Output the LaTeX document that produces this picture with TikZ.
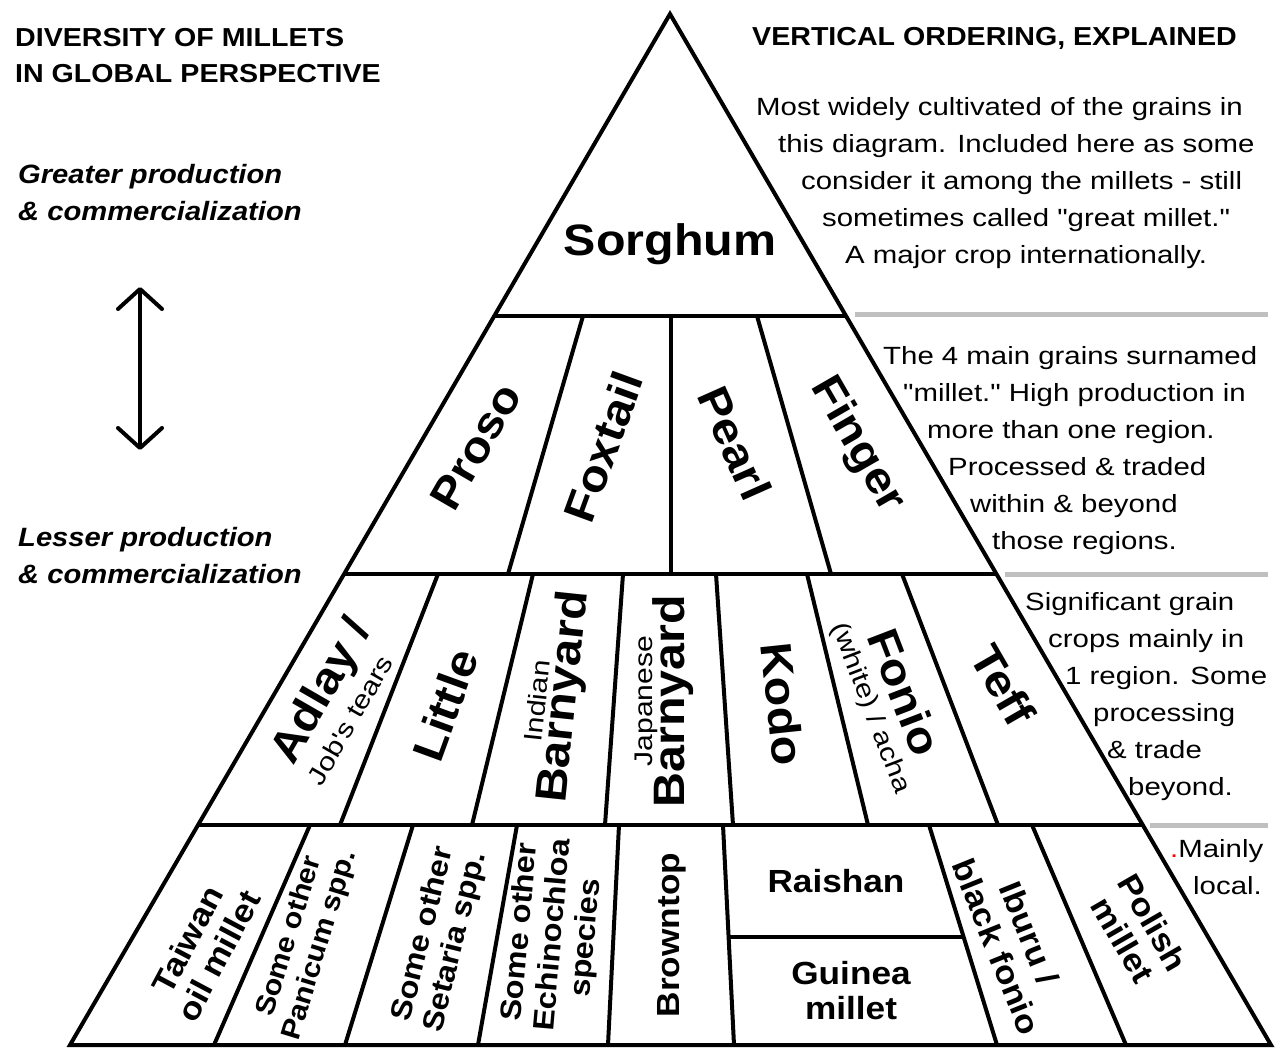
\documentclass[tikz,border=0pt]{standalone}
\usepackage{fontspec}
\setmainfont{Liberation Sans}
\newfontfamily\bodyfont[FakeStretch=1.18]{Liberation Sans}
\newfontfamily\lblfont[FakeStretch=1.1]{Liberation Sans}
\usepackage{tikz}
\usetikzlibrary{arrows.meta,positioning}
\definecolor{sepgray}{RGB}{192,192,192}

\begin{document}
\begin{tikzpicture}[x=1pt,y=-1pt,inner sep=0pt]
  \path[use as bounding box,fill=white](0,0)rectangle(1284,1048);
  \tikzstyle{wall}=[line width=4pt,line join=miter]
  \tikzstyle{hr}=[line width=5pt,draw=sepgray]
  \tikzstyle{head}=[font=\lblfont\bfseries\fontsize{26}{36}\selectfont,align=left,anchor=north west]
  \tikzstyle{side}=[font=\lblfont\bfseries\itshape\fontsize{26.5}{37}\selectfont,align=left,anchor=north west]
  \tikzstyle{note}=[font=\bodyfont\fontsize{24.9}{37}\selectfont,align=left,anchor=north west]
  \tikzstyle{lab}=[font=\lblfont\bfseries\fontsize{44}{44}\selectfont]
  \tikzstyle{sub}=[font=\bodyfont\fontsize{25.5}{30}\selectfont]
  \tikzstyle{sm}=[font=\lblfont\bfseries\fontsize{32}{35}\selectfont,align=center]
  \tikzstyle{spp}=[font=\lblfont\bfseries\fontsize{29.5}{33}\selectfont,align=center]
  % pyramid frame and rows
  \coordinate(top)at(670,14);
  \coordinate(bl)at(70,1045);
  \coordinate(br)at(1271,1045);
  \draw[wall](bl)--(top)--(br)--cycle;
  \foreach\y/\l/\r in{316/494/846,574/344/997,825/198/1143}{\draw[wall](\l,\y)--(\r,\y);}
  \foreach\a/\b in{583/508,671/671,757/831}{\draw[wall](\a,316)--(\b,574);}
  \foreach\a/\b in{438/340,533/472,623/605,716/733,807/868,902/998}{\draw[wall](\a,574)--(\b,825);}
  \foreach\a/\b in{310/214,413/345,517/478,619/608,723/734,929/997,1032/1126}{\draw[wall](\a,825)--(\b,1045);}
  \draw[wall](728.6,937)--(963.6,937);
  \draw[hr](855,315)--(1268,315);
  \draw[hr](1005,574)--(1268,574);
  \draw[hr](1150,825)--(1268,825);
  % left column
  \node[head](title)at(15,28){DIVERSITY OF MILLETS\\IN GLOBAL PERSPECTIVE};
  \node[side](greater)at(18,164){Greater production\\\& commercialization};
  \node[side](lesser)at(18,527){Lesser production\\\& commercialization};
  \coordinate(more)at(140,287);
  \coordinate(less)at(140,450);
  \draw[line width=4pt,{Straight Barb[length=20pt,width=44pt,round]}-{Straight Barb[length=20pt,width=44pt,round]}](more)--(less);
  % right column
  \node[head](expl)at(752,27){VERTICAL ORDERING, EXPLAINED};
  \node[note](n1)at(756,97){Most widely cultivated of the grains in\\\hspace*{22pt}this diagram. Included here as some\\\hspace*{45pt}consider it among the millets - still\\\hspace*{66pt}sometimes called "great millet."\\\hspace*{89pt}A major crop internationally.};
  \node[note](n2)at(883,346){The 4 main grains surnamed\\\hspace*{20pt}"millet." High production in\\\hspace*{44pt}more than one region.\\\hspace*{65pt}Processed \& traded\\\hspace*{87pt}within \& beyond\\\hspace*{109pt}those regions.};
  \node[note](n3)at(1025,592){Significant grain\\\hspace*{23pt}crops mainly in\\\hspace*{40pt}1 region. Some\\\hspace*{68pt}processing\\\hspace*{82pt}\& trade\\\hspace*{103pt}beyond.};
  \node[note](n4)at(1170,839){\textcolor{red}{.}Mainly\\\hspace*{23pt}local.};
  % grains
  \node[lab,anchor=base](sorghum)at(670,256){Sorghum};
  \node[lab,rotate=60](proso)at(476,447){Proso};
  \node[lab,rotate=70](foxtail)at(603,447){Foxtail};
  \node[lab,rotate=-66](pearl)at(735,443){Pearl};
  \node[lab,rotate=-60](finger)at(857,445){Finger};
  \node[lab,rotate=60](adlay)at(323,692){Adlay /};
  \node[sub,rotate=60](jobs)at(350,720){Job's tears};
  \node[lab,rotate=70](little)at(445,705){Little};
  \node[sub,rotate=84](indian)at(537,701){Indian};
  \node[lab,rotate=84](ibarn)at(565,697){Barnyard};
  \node[sub,rotate=90](japanese)at(646,701){Japanese};
  \node[lab,rotate=90](jbarn)at(673,701){Barnyard};
  \node[lab,rotate=-84](kodo)at(783,704){Kodo};
  \node[lab,rotate=-69](fonio)at(905,692){Fonio};
  \node[sub,rotate=-69](acha)at(870,708){(white) / acha};
  \node[lab,rotate=-60](teff)at(1003,685){Teff};
  \node[sm,rotate=62](taiwan)at(203,948){Taiwan\\oil millet};
  \node[spp,rotate=73,font=\lblfont\bfseries\fontsize{27.5}{32}\selectfont](panicum)at(305,941){Some other\\Panicum spp.};
  \node[spp,rotate=76](setaria)at(440,938){Some other\\Setaria spp.};
  \node[spp,rotate=85](echino)at(554,935){Some other\\Echinochloa\\species};
  \node[sm,rotate=90](browntop)at(672,935){Browntop};
  \node[sm,anchor=base](raishan)at(836,892){Raishan};
  \node[sm](guinea)at(851,991){Guinea\\millet};
  \node[sm,rotate=-68](iburu)at(1013,940){Iburu /\\black fonio};
  \node[sm,rotate=-60](polish)at(1138,931){Polish\\millet};
\end{tikzpicture}
\end{document}
